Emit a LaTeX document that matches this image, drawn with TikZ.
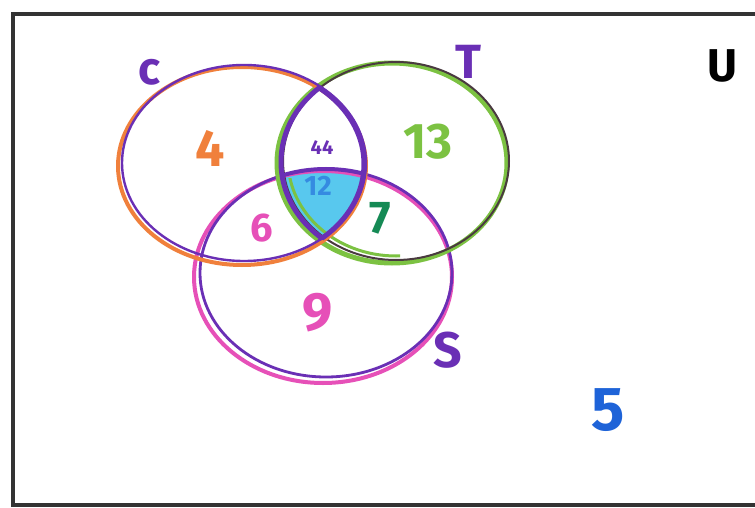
\documentclass[tikz,border=0pt]{standalone}
\usepackage{fontspec}
\setmainfont{Fira Sans}
\definecolor{cpurple}{HTML}{6A2FB5}
\definecolor{corange}{HTML}{F0803C}
\definecolor{tgreen}{HTML}{7CC242}
\definecolor{tdark}{HTML}{4A3A40}
\definecolor{spink}{HTML}{E650B8}
\definecolor{dgreen}{HTML}{158A55}
\definecolor{fblue}{HTML}{1E63D8}
\definecolor{lblue}{HTML}{58C8EE}
\definecolor{frame}{HTML}{333333}
\begin{document}
\begin{tikzpicture}[x=1pt,y=-1pt,
  lab/.style={inner sep=0pt,font=\fontsize{#1}{#1}\selectfont\bfseries},
  ring/.style={line width=4pt}]
\useasboundingbox (0,0) rectangle (755,508);
\fill[white] (0,0) rectangle (755,508);
% frame
\draw[frame,line width=4.5pt] (760,14) -- (13,14) -- (13,505) -- (760,505);
% triple intersection fill
\begin{scope}
  \clip (243,164) ellipse [x radius=123,y radius=99];
  \clip (394,162) ellipse [x radius=114,y radius=100];
  \fill[lblue] (325,274) ellipse [x radius=128,y radius=106];
\end{scope}
% S circle
\draw[spink,ring] (323,277) ellipse [x radius=129,y radius=106];
\draw[cpurple,line width=2.8pt] (326,273) ellipse [x radius=126,y radius=104];
% T circle
\draw[tgreen,line width=5pt] (392,163) ellipse [x radius=115,y radius=100];
\draw[tdark,line width=2pt] (396,161) ellipse [x radius=113,y radius=99];
\begin{scope}
  \clip (270,178) rectangle (400,270);
  \draw[tgreen,line width=3pt] (396,160) ellipse [x radius=108,y radius=96];
\end{scope}
% C circle
\draw[corange,ring] (242,166) ellipse [x radius=124,y radius=99];
\draw[cpurple,line width=2.4pt] (244,163) ellipse [x radius=122,y radius=98];
% lens outline C cap T
\begin{scope}
  \clip (394,162) ellipse [x radius=114,y radius=100];
  \draw[cpurple,line width=5pt] (243,164) ellipse [x radius=121,y radius=98];
\end{scope}
\begin{scope}
  \clip (243,164) ellipse [x radius=123,y radius=99];
  \draw[cpurple,line width=5pt] (394,162) ellipse [x radius=113,y radius=99];
  \clip (394,162) ellipse [x radius=114,y radius=100];
  \draw[cpurple,line width=4pt] (326,273) ellipse [x radius=126,y radius=104];
\end{scope}
% labels
\node[lab=46,text=cpurple] (lc) at (150,72) {c};
\node[lab=48,text=cpurple] (lt) at (468,62) {T};
\node[lab=46,text=black] (lu) at (722,66) {U};
\node[lab=52,text=corange] (n4) at (210,148) {4};
\node[lab=50,text=tgreen] (n13) at (428,142) {13};
\node[lab=20,text=cpurple] (n44) at (322,148) {44};
\node[lab=28,text=fblue!60!lblue] (n12) at (318,186) {12};
\node[lab=40,text=spink] (n6) at (262,228) {6};
\node[lab=46,text=dgreen] (n7) at (380,218) {7};
\node[lab=54,text=spink] (n9) at (318,313) {9};
\node[lab=50,text=cpurple] (ls) at (448,350) {S};
\node[lab=62,text=fblue] (n5) at (608,410) {5};
\end{tikzpicture}
\end{document}
